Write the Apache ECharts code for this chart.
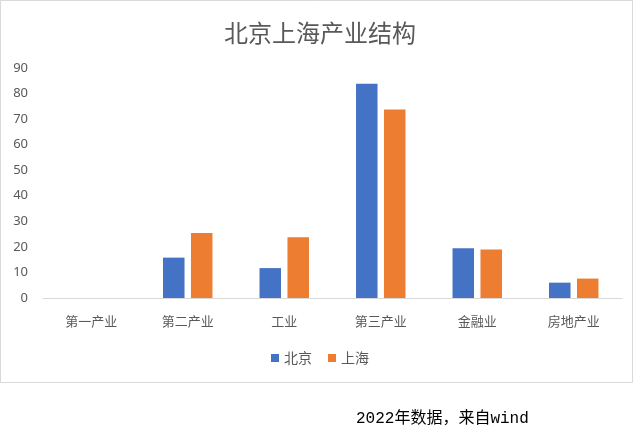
<!DOCTYPE html>
<html><head><meta charset="utf-8">
<script src="https://cdn.jsdelivr.net/npm/echarts@6/dist/echarts.min.js"></script>
<style>html,body{margin:0;padding:0;background:#fff}#c{width:640px;height:434px}</style>
</head><body><div id="c"></div>
<script>
const categories = ['第一产业','第二产业','工业','第三产业','金融业','房地产业'];
const beijing = [0, 15.8, 11.7, 83.8, 19.5, 6.0];
const shanghai = [0, 25.4, 23.8, 73.8, 19.0, 7.6];
const seriesNames = ['北京','上海'];
const yTicks = {min:0, max:90, interval:10};
const titleText = '北京上海产业结构';
const footerText = '2022年数据，来自wind';

const chart = echarts.init(document.getElementById('c'), null, {renderer:'canvas'});
chart.setOption({
  animation:false,
  backgroundColor:'#fff',
  title:{text:titleText,left:'center',top:16,textStyle:{fontSize:24,fontWeight:'normal',color:'#595959',fontFamily:'Noto Sans CJK SC'}},
  legend:{data:seriesNames,left:'center',top:346,icon:'rect',itemWidth:8,itemHeight:8,itemGap:16,
    textStyle:{fontSize:14,color:'#595959',fontFamily:'Noto Sans CJK SC'}},
  grid:{left:43,right:18,top:68,bottom:136,containLabel:false},
  xAxis:{type:'category',data:categories,
    axisLine:{lineStyle:{color:'#d9d9d9',width:1}},axisTick:{show:false},
    axisLabel:{fontSize:13,color:'#595959',margin:17,fontFamily:'Noto Sans CJK SC'}},
  yAxis:{type:'value',min:yTicks.min,max:yTicks.max,interval:yTicks.interval,
    splitLine:{show:false},axisLine:{show:false},axisTick:{show:false},
    axisLabel:{fontSize:13,color:'#595959',margin:15,fontFamily:'Noto Sans'}},
  series:[
    {name:seriesNames[0],type:'bar',data:beijing,barWidth:21.5,barGap:'30%',itemStyle:{color:'#4472C4'}},
    {name:seriesNames[1],type:'bar',data:shanghai,barWidth:21.5,barGap:'30%',itemStyle:{color:'#ED7D31'}}
  ],
  graphic:[
    {type:'rect',shape:{x:0.5,y:0.5,width:632,height:382},style:{fill:null,stroke:'#d9d9d9',lineWidth:1},silent:true,z:-1},
    {type:'text',left:356,top:411,style:{text:footerText,fontSize:16,fill:'#000',fontFamily:'"Liberation Mono","Noto Sans CJK SC"'}}
  ]
});
</script></body></html>
